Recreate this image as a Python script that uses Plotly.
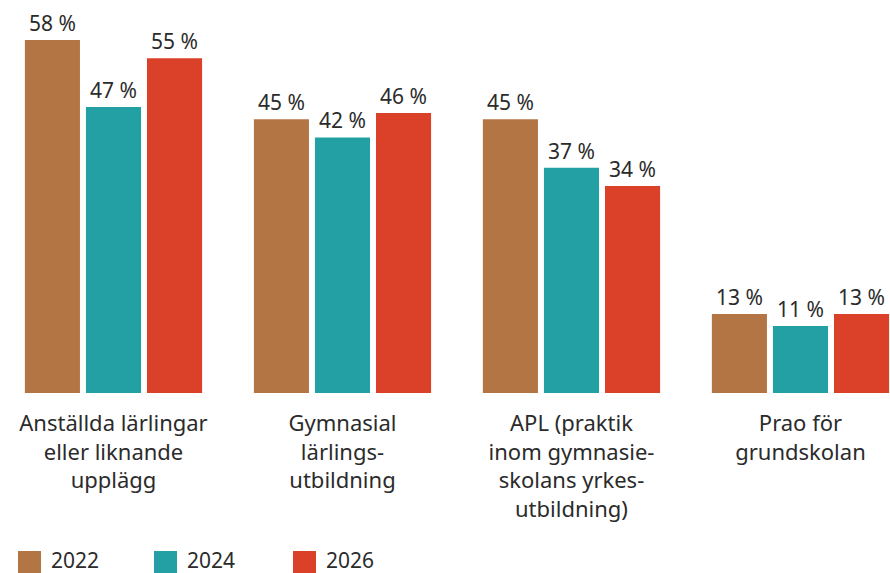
import plotly.graph_objects as go

# categories and values (percent)
categories = [
    "Anställda lärlingar<br>eller liknande<br>upplägg",
    "Gymnasial<br>lärlings-<br>utbildning",
    "APL (praktik<br>inom gymnasie-<br>skolans yrkes-<br>utbildning)",
    "Prao för<br>grundskolan",
]
years = ["2022", "2024", "2026"]
values_2022 = [58, 45, 45, 13]
values_2024 = [47, 42, 37, 11]
values_2026 = [55, 46, 34, 13]
colors = ["#B47545", "#23A0A4", "#DB4028"]

FONT = "Noto Sans"
TEXT_COLOR = "#2b2b2b"

fig = go.Figure()
for name, vals, col in zip(years, [values_2022, values_2024, values_2026], colors):
    fig.add_trace(go.Bar(
        x=categories, y=vals, name=name,
        marker_color=col, marker_line_width=0,
        text=vals, texttemplate="%{text} %",
        textposition="outside", constraintext="none", cliponaxis=False,
        textfont=dict(family=FONT, size=21, color=TEXT_COLOR),
        showlegend=False,
    ))

# legend drawn by hand: big square swatches like the original
legend_x = [18, 154, 293]
for name, col, lx in zip(years, colors, legend_x):
    fig.add_shape(type="rect", xref="paper", yref="paper",
                  x0=lx / 890, x1=(lx + 23) / 890,
                  y0=(393 - 551) / 393, y1=(393 - 574) / 393,
                  fillcolor=col, line_width=0)
    fig.add_annotation(xref="paper", yref="paper",
                       x=(lx + 31) / 890, y=(393 - 560) / 393,
                       text=name, showarrow=False, xanchor="left", yanchor="middle",
                       font=dict(family=FONT, size=21, color=TEXT_COLOR))

fig.update_layout(
    width=890, height=573,
    margin=dict(l=0, r=0, t=0, b=180),
    plot_bgcolor="white", paper_bgcolor="white",
    barmode="group", bargap=0.2, bargroupgap=0.098,
    font=dict(family=FONT, size=21, color=TEXT_COLOR),
)
fig.update_xaxes(range=[-0.4956, 3.391], showgrid=False, showline=False,
                 ticks="", ticklabelstandoff=15,
                 tickfont=dict(family=FONT, size=22, color=TEXT_COLOR))
fig.update_yaxes(range=[0, 393 / 6.086], visible=False, showgrid=False)

# drop the default page margin so the figure sits at the window's corner
fig.write_html("out.html", config={"displayModeBar": False},
               post_script="document.body.style.margin='0';")
